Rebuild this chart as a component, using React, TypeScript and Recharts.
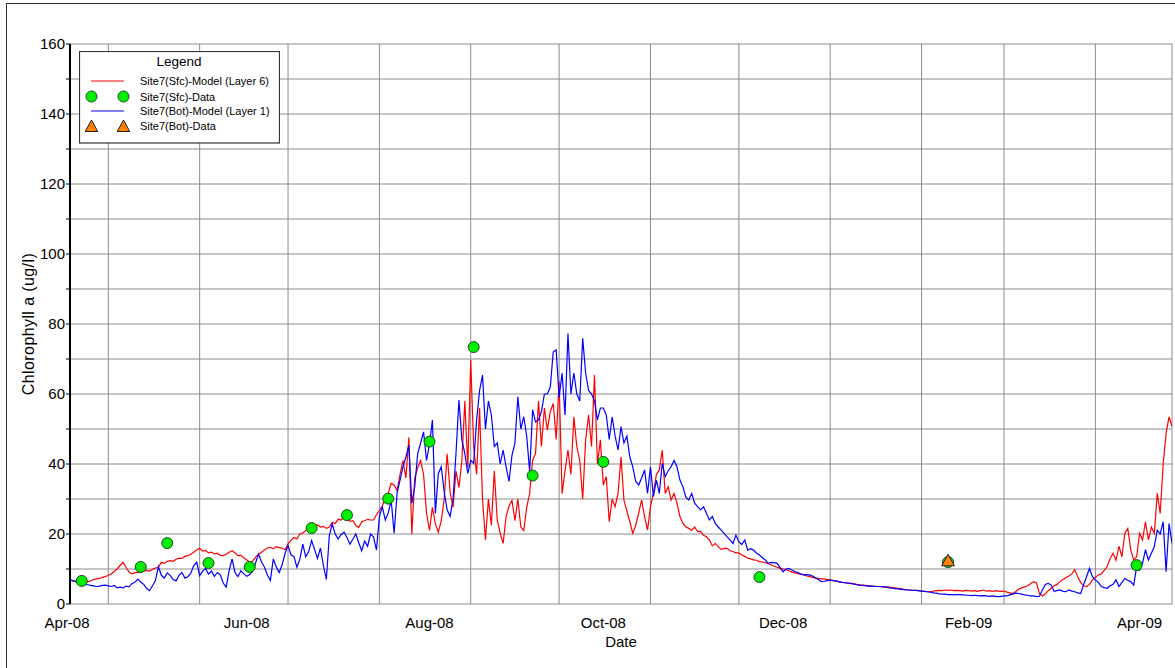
import {
  ComposedChart, Line, Scatter, XAxis, YAxis, CartesianGrid, Legend,
} from "recharts";

const FONT = '"Liberation Sans", Arial, Helvetica, sans-serif';

// x axis: days counted from 1 Apr 2008
const DAY0 = Date.UTC(2008, 3, 1);
const toDay = (iso: string) =>
  Math.round((Date.parse(iso + "T00:00:00Z") - DAY0) / 86400000);

const X_START = "2008-04-18";
const X_END = "2009-04-27";

// vertical grid lines (first of each month)
const MONTH_LINES = [
  "2008-05-01", "2008-06-01", "2008-07-01", "2008-08-01", "2008-09-01", "2008-10-01",
  "2008-11-01", "2008-12-01", "2009-01-01", "2009-02-01", "2009-03-01", "2009-04-01",
];

const DATE_LABELS = ["Apr-08", "Jun-08", "Aug-08", "Oct-08", "Dec-08", "Feb-09", "Apr-09"];
const DATE_LABEL_AT = [
  "2008-04-17", "2008-06-17", "2008-08-18", "2008-10-16", "2008-12-16", "2009-02-17", "2009-04-16",
];

const Y_TICKS = [0, 10, 20, 30, 40, 50, 60, 70, 80, 90, 100, 110, 120, 130, 140, 150, 160];

const SERIES_NAMES = [
  "Site7(Sfc)-Model (Layer 6)",
  "Site7(Sfc)-Data",
  "Site7(Bot)-Model (Layer 1)",
  "Site7(Bot)-Data",
];

// daily model output from MODEL_START
const MODEL_START = "2008-04-18";
const MODEL_STEP = 1;

const SFC_MODEL = [
  6.8, 6.6, 6.5, 6.3, 6.2, 6.4, 6.3, 6.6, 7.0, 7.2,
  7.3, 7.6, 7.8, 8.2, 8.6, 9.3, 10.0, 11.0, 11.9, 10.5,
  9.2, 8.6, 8.9, 9.1, 9.0, 9.4, 9.6, 9.4, 9.9, 10.3,
  10.5, 11.9, 11.6, 12.2, 12.4, 12.2, 12.8, 13.1, 13.0, 13.6,
  13.8, 14.2, 14.8, 15.4, 15.9, 15.1, 15.3, 14.6, 14.8, 14.3,
  14.5, 13.9, 13.8, 14.2, 14.8, 15.2, 14.6, 13.8, 13.9, 13.2,
  12.6, 12.0, 12.3, 13.4, 14.2, 14.8, 15.4, 16.0, 16.2, 15.8,
  16.4, 16.1, 16.0, 15.5, 17.2, 18.2, 19.0, 18.6, 20.0, 20.3,
  21.0, 21.5, 21.9, 22.4, 22.6, 22.0, 22.2, 21.6, 22.0, 23.3,
  23.0, 24.2, 24.0, 24.8, 24.5, 23.6, 23.8, 22.4, 21.9, 23.5,
  23.8, 24.2, 24.0, 24.0, 25.5, 26.7, 28.0, 30.5, 31.6, 34.5,
  34.0, 32.4, 37.0, 41.0, 36.0, 47.6, 20.0, 36.0, 39.0, 41.0,
  37.0, 26.0, 21.0, 27.6, 22.9, 20.5, 23.8, 30.0, 42.9, 32.0,
  27.6, 38.0, 33.3, 41.0, 58.0, 39.0, 69.7, 44.8, 37.0, 56.0,
  30.0, 18.3, 30.0, 22.5, 38.0, 24.0, 20.2, 17.3, 25.0, 28.0,
  29.6, 23.8, 30.0, 22.0, 21.0, 27.6, 31.6, 41.0, 43.0, 58.0,
  45.0, 56.0, 49.7, 55.0, 57.3, 47.0, 63.6, 31.5, 38.0, 44.0,
  37.0, 53.5, 45.0, 41.0, 30.0, 46.9, 54.0, 45.0, 65.4, 40.0,
  46.9, 34.0, 36.4, 23.5, 30.0, 27.8, 31.6, 42.0, 29.7, 26.5,
  23.5, 20.2, 22.5, 26.0, 29.7, 25.0, 21.1, 27.8, 31.6, 37.0,
  38.3, 44.0, 31.6, 33.5, 29.7, 31.6, 28.8, 25.0, 23.0, 22.0,
  21.6, 21.1, 22.0, 20.7, 20.8, 19.6, 19.2, 18.3, 16.6, 17.3,
  16.4, 15.6, 15.9, 15.9, 15.2, 15.0, 14.6, 14.6, 14.0, 13.6,
  13.1, 12.9, 12.6, 12.5, 12.1, 12.0, 11.8, 11.5, 11.2, 10.8,
  10.5, 10.2, 10.0, 9.8, 9.5, 9.1, 8.9, 8.7, 8.5, 8.3,
  8.0, 7.9, 7.6, 7.4, 7.3, 7.2, 7.1, 7.0, 6.9, 6.7,
  6.6, 6.3, 6.2, 6.1, 5.9, 5.9, 5.8, 5.6, 5.5, 5.4,
  5.3, 5.2, 5.1, 5.1, 5.0, 5.0, 4.9, 4.9, 4.8, 4.7,
  4.6, 4.5, 4.4, 4.2, 4.1, 4.0, 3.9, 3.9, 3.8, 3.7,
  3.6, 3.5, 3.5, 3.7, 3.8, 3.9, 3.8, 4.0, 3.9, 4.0,
  3.8, 3.9, 3.8, 3.7, 3.9, 3.8, 3.7, 3.8, 3.6, 3.8,
  4.0, 3.7, 3.8, 3.6, 3.8, 3.7, 3.6, 3.7, 3.4, 3.2,
  3.0, 3.6, 4.3, 4.6, 4.9, 5.2, 5.8, 6.4, 6.0, 3.0,
  2.3, 2.9, 3.8, 4.5, 5.2, 5.6, 6.4, 7.0, 7.5, 8.0,
  8.6, 9.8, 7.8, 6.2, 5.2, 5.0, 5.6, 6.9, 7.6, 8.3,
  8.6, 9.6, 10.7, 13.0, 14.5, 12.5, 16.5, 13.5, 20.2, 21.6,
  15.4, 12.6, 13.5, 20.2, 18.3, 23.5, 18.3, 22.0, 20.2, 31.6,
  25.9, 40.0, 48.8, 53.5, 50.7,
];

const BOT_MODEL = [
  6.9, 6.7, 6.4, 6.1, 5.9, 5.6, 5.5, 5.3, 5.2, 5.0,
  5.1, 5.3, 5.4, 5.2, 5.0, 5.3, 4.6, 4.8, 4.6, 5.1,
  4.9, 5.8, 6.2, 7.1, 6.3, 5.6, 4.5, 3.8, 5.2, 6.7,
  10.7, 8.2, 7.4, 8.9, 8.2, 7.0, 6.6, 8.2, 9.0, 7.4,
  7.8, 8.8, 11.0, 11.9, 8.1, 9.4, 10.2, 8.5, 9.4, 7.9,
  9.0, 8.3, 6.0, 4.8, 9.5, 12.9, 9.0, 7.8, 9.5, 8.6,
  7.9, 8.4, 9.3, 11.8, 14.3, 12.0, 10.5, 8.3, 6.7, 12.9,
  10.6, 9.0, 11.2, 14.5, 16.7, 14.0, 13.6, 10.5, 12.8, 17.1,
  13.5, 15.0, 18.1, 15.6, 13.0, 16.0, 11.0, 7.0, 19.5, 22.9,
  20.0, 18.6, 19.8, 20.5, 19.0, 17.1, 18.5, 20.0, 17.5, 15.2,
  18.0, 16.5, 20.0, 19.2, 15.4, 25.0, 27.8, 24.0, 26.0, 29.7,
  20.2, 31.6, 35.4, 39.2, 42.0, 45.4, 28.8, 33.5, 43.0, 46.0,
  49.2, 41.0, 45.7, 52.6, 25.9, 37.3, 39.2, 32.0, 26.9, 25.0,
  30.0, 43.0, 58.3, 46.9, 43.0, 37.3, 41.0, 40.2, 52.6, 61.0,
  65.4, 50.0, 58.0, 54.0, 45.0, 46.0, 40.0, 44.0, 39.2, 35.0,
  42.5, 46.0, 59.2, 50.0, 53.5, 48.0, 37.8, 55.5, 52.0, 52.6,
  55.0, 60.0, 60.0, 62.0, 72.0, 72.6, 59.0, 66.0, 54.0, 77.3,
  60.0, 66.0, 60.0, 58.0, 75.9, 66.0, 61.0, 60.0, 58.0, 52.6,
  56.0, 56.0, 54.0, 47.0, 53.5, 48.0, 44.0, 50.7, 46.0, 48.0,
  42.0, 39.2, 35.0, 34.0, 36.0, 38.3, 31.6, 39.2, 30.7, 35.4,
  31.6, 40.2, 36.4, 38.0, 39.2, 41.0, 39.2, 35.4, 33.5, 30.5,
  29.7, 31.6, 28.8, 27.8, 26.9, 27.8, 25.9, 24.0, 25.0, 23.0,
  22.0, 21.1, 20.2, 19.2, 18.3, 17.3, 19.7, 17.8, 17.0, 18.3,
  15.4, 15.8, 15.4, 14.5, 14.0, 13.2, 12.6, 11.6, 11.9, 11.8,
  11.6, 10.4, 9.2, 10.0, 10.2, 9.7, 9.3, 9.0, 8.6, 8.3,
  8.4, 8.3, 8.0, 7.5, 7.0, 6.4, 6.5, 6.7, 6.8, 6.7,
  6.6, 6.4, 6.2, 6.1, 6.0, 5.9, 5.7, 5.5, 5.3, 5.3,
  5.2, 5.1, 5.1, 5.0, 5.0, 5.0, 4.9, 4.8, 4.6, 4.5,
  4.4, 4.3, 4.2, 4.1, 4.0, 4.0, 3.9, 3.9, 3.8, 3.7,
  3.6, 3.5, 3.4, 3.2, 3.1, 2.9, 2.8, 2.8, 2.7, 2.7,
  2.6, 2.7, 2.7, 2.6, 2.5, 2.5, 2.4, 2.5, 2.4, 2.3,
  2.4, 2.3, 2.2, 2.3, 2.2, 2.1, 2.2, 2.3, 2.3, 2.6,
  2.9, 3.1, 3.0, 2.8, 2.6, 2.5, 2.3, 2.3, 2.1, 2.2,
  4.0, 5.6, 5.9, 5.4, 3.6, 3.8, 4.0, 3.6, 3.5, 4.0,
  3.7, 3.5, 3.2, 3.0, 5.5, 7.8, 10.2, 7.8, 6.9, 6.2,
  5.0, 4.7, 4.5, 5.2, 5.6, 6.9, 5.0, 6.2, 7.3, 6.8,
  6.4, 5.4, 10.7, 9.7, 11.6, 15.5, 12.6, 14.5, 16.4, 21.1,
  20.0, 23.5, 9.2, 23.0, 17.3,
];

// observations
const SFC_DATA_DATES = [
  "2008-04-22", "2008-05-12", "2008-05-21", "2008-06-04", "2008-06-18",
  "2008-07-09", "2008-07-21", "2008-08-04", "2008-08-18", "2008-09-02",
  "2008-09-22", "2008-10-16", "2008-12-08", "2009-02-10", "2009-04-15",
];
const SFC_DATA_VALUES = [
  6.6, 10.6, 17.4, 11.7, 10.6,
  21.7, 25.4, 30.1, 46.4, 73.4,
  36.7, 40.6, 7.7, 12.0, 11.1,
];
const BOT_DATA_DATES = ["2009-02-10"];
const BOT_DATA_VALUES = [12.2];

const modelStart = toDay(MODEL_START);
const sfcModel = SFC_MODEL.map((v, i) => ({ d: modelStart + i * MODEL_STEP, v }));
const botModel = BOT_MODEL.map((v, i) => ({ d: modelStart + i * MODEL_STEP, v }));
const sfcData = SFC_DATA_DATES.map((s, i) => ({ d: toDay(s), v: SFC_DATA_VALUES[i] }));
const botData = BOT_DATA_DATES.map((s, i) => ({ d: toDay(s), v: BOT_DATA_VALUES[i] }));

const domain: [number, number] = [toDay(X_START), toDay(X_END)];
const monthTicks = MONTH_LINES.map(toDay);
const labelTicks = DATE_LABEL_AT.map(toDay);

const RED = "#ff0000";
const BLUE = "#0000ff";
const GREEN = "#00ee00";
const ORANGE = "#ff7f00";

const GreenDot = (p: any) => (
  <circle cx={p.cx} cy={p.cy} r={5.5} fill={GREEN} stroke="#1e4a1e" strokeWidth={1} />
);

const OrangeTri = (p: any) => (
  <polygon
    points={`${p.cx},${p.cy - 7} ${p.cx - 6.3},${p.cy + 4.5} ${p.cx + 6.3},${p.cy + 4.5}`}
    fill={ORANGE}
    stroke="#222"
    strokeWidth={1}
  />
);

function LegendBox() {
  const rowY = [30, 45.5, 60, 75];
  return (
    <svg width={201} height={93} style={{ display: "block", fontFamily: FONT }}>
      <rect x={0.5} y={0.5} width={200} height={91.5} fill="#fff" stroke="#333" strokeWidth={1.2} />
      <text x={100} y={14.5} textAnchor="middle" fontSize={13.5} fill="#000">Legend</text>
      {SERIES_NAMES.map((name, i) => {
        const y = rowY[i];
        let sample;
        if (i === 0 || i === 2) {
          sample = <line x1={12} x2={45} y1={y} y2={y} stroke={i === 0 ? RED : BLUE} strokeWidth={1} />;
        } else if (i === 1) {
          sample = (
            <g>
              <GreenDot cx={12.5} cy={y} />
              <GreenDot cx={44.5} cy={y} />
            </g>
          );
        } else {
          sample = (
            <g>
              <OrangeTri cx={12.5} cy={y + 1} />
              <OrangeTri cx={44.5} cy={y + 1} />
            </g>
          );
        }
        return (
          <g key={name}>
            {sample}
            <text x={61} y={y + 4} fontSize={11} fill="#000">{name}</text>
          </g>
        );
      })}
    </svg>
  );
}

export default function App() {
  return (
    <div
      style={{
        position: "fixed", left: 0, top: 0, width: 1175, height: 668,
        overflow: "hidden", background: "#fff", fontFamily: FONT,
      }}
    >
      <div
        style={{
          position: "absolute", left: 6, top: 3, width: 1200, height: 700,
          borderLeft: "1px solid #333", borderTop: "1px solid #333",
        }}
      />
      <div style={{ position: "absolute", left: 0, top: 0 }}>
        <ComposedChart width={1175} height={668} margin={{ top: 44, right: 3, bottom: 14, left: 10 }}>
          <CartesianGrid stroke="#8c8c8c" strokeWidth={1} />
          <XAxis
            dataKey="d"
            type="number"
            domain={domain}
            allowDataOverflow
            ticks={monthTicks}
            interval={0}
            height={0}
            tickSize={-6}
            tickLine={{ stroke: "#000", strokeWidth: 1.5 }}
            axisLine={{ stroke: "#000", strokeWidth: 2 }}
            tickFormatter={() => ""}
          />
          <XAxis
            xAxisId="lbl"
            dataKey="d"
            type="number"
            domain={domain}
            allowDataOverflow
            ticks={labelTicks}
            interval={0}
            height={50}
            tickSize={0}
            tickMargin={13}
            tickLine={false}
            axisLine={false}
            tick={{ fill: "#000", fontSize: 15, fontFamily: FONT }}
            tickFormatter={(v: number) => DATE_LABELS[labelTicks.indexOf(v)] ?? ""}
            label={{ value: "Date", position: "insideBottom", offset: 7, fill: "#000", fontSize: 15, fontFamily: FONT }}
          />
          <YAxis
            type="number"
            domain={[0, 160]}
            ticks={Y_TICKS}
            interval={0}
            width={60}
            tickSize={4}
            tickMargin={1}
            tickLine={{ stroke: "#000" }}
            axisLine={{ stroke: "#000", strokeWidth: 2 }}
            tick={{ fill: "#000", fontSize: 15, fontFamily: FONT }}
            tickFormatter={(v: number) => (v % 20 === 0 ? String(v) : "")}
            label={{
              value: "Chlorophyll a (ug/l)", angle: -90, position: "insideLeft", offset: 18,
              fill: "#000", fontSize: 16, fontFamily: FONT,
              style: { textAnchor: "middle", letterSpacing: "0.4px" },
            }}
          />
          <Line
            data={sfcModel} dataKey="v" name={SERIES_NAMES[0]} type="linear"
            stroke={RED} strokeWidth={1.2} dot={false} activeDot={false} isAnimationActive={false}
          />
          <Line
            data={botModel} dataKey="v" name={SERIES_NAMES[2]} type="linear"
            stroke={BLUE} strokeWidth={1.2} dot={false} activeDot={false} isAnimationActive={false}
          />
          <Scatter
            xAxisId="lbl" data={sfcData} dataKey="v" name={SERIES_NAMES[1]}
            shape={GreenDot} isAnimationActive={false}
          />
          <Scatter
            xAxisId="lbl" data={botData} dataKey="v" name={SERIES_NAMES[3]}
            shape={OrangeTri} isAnimationActive={false}
          />
          <Legend
            layout="horizontal"
            verticalAlign="middle"
            align="center"
            wrapperStyle={{ left: 79, top: 51, width: 201, height: 93 }}
            content={() => <LegendBox />}
          />
        </ComposedChart>
      </div>
    </div>
  );
}
